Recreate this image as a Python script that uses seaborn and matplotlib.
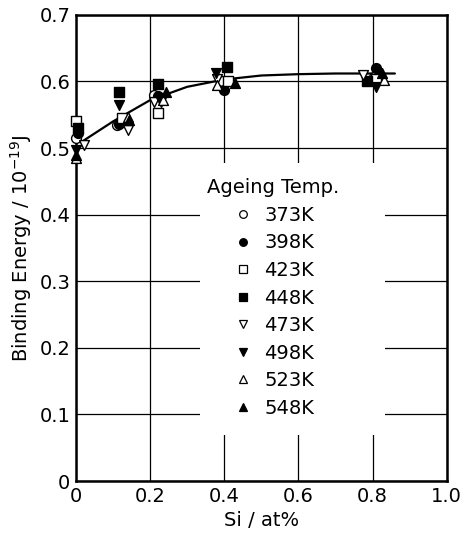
import numpy as np
import pandas as pd
import matplotlib
matplotlib.use("Agg")
import matplotlib.pyplot as plt
import seaborn as sns
from matplotlib.lines import Line2D
from matplotlib.patches import Rectangle

temps = ["373K", "398K", "423K", "448K", "473K", "498K", "523K", "548K"]
markers = ["o", "o", "s", "s", "v", "v", "^", "^"]
filled = [False, True, False, True, False, True, False, True]

# Si content (at%) and binding energy (1e-19 J) per ageing temperature
si_373 = [0.000, 0.110, 0.210, 0.395, 0.805]
be_373 = [0.515, 0.535, 0.580, 0.600, 0.607]
si_398 = [0.005, 0.115, 0.220, 0.400, 0.810]
be_398 = [0.522, 0.536, 0.578, 0.587, 0.620]
si_423 = [0.000, 0.124, 0.220, 0.410, 0.810]
be_423 = [0.541, 0.545, 0.553, 0.600, 0.604]
si_448 = [0.005, 0.116, 0.222, 0.407, 0.785]
be_448 = [0.530, 0.584, 0.596, 0.622, 0.600]
si_473 = [0.022, 0.140, 0.210, 0.380, 0.775]
be_473 = [0.505, 0.527, 0.569, 0.603, 0.610]
si_498 = [0.000, 0.116, 0.230, 0.378, 0.810]
be_498 = [0.497, 0.565, 0.569, 0.613, 0.592]
si_523 = [0.000, 0.140, 0.235, 0.380, 0.830]
be_523 = [0.485, 0.547, 0.572, 0.595, 0.602]
si_548 = [0.000, 0.143, 0.243, 0.430, 0.825]
be_548 = [0.490, 0.542, 0.584, 0.598, 0.613]

curve_x = [0.02, 0.10, 0.20, 0.30, 0.40, 0.50, 0.60, 0.70, 0.80, 0.86]
curve_y = [0.511, 0.540, 0.572, 0.592, 0.603, 0.609, 0.611, 0.612, 0.612, 0.612]

xticks = [0, 0.2, 0.4, 0.6, 0.8, 1.0]
xticklabels = ["0", "0.2", "0.4", "0.6", "0.8", "1.0"]
yticks = [0, 0.1, 0.2, 0.3, 0.4, 0.5, 0.6, 0.7]
yticklabels = ["0", "0.1", "0.2", "0.3", "0.4", "0.5", "0.6", "0.7"]

si_all = [si_373, si_398, si_423, si_448, si_473, si_498, si_523, si_548]
be_all = [be_373, be_398, be_423, be_448, be_473, be_498, be_523, be_548]

rows = []
for t, xs, ys in zip(temps, si_all, be_all):
    for x, y in zip(xs, ys):
        rows.append({"Temp": t, "Si": x, "BE": y})
df = pd.DataFrame(rows)

sns.set_theme(style="white")
plt.rcParams["font.family"] = ["DejaVu Sans"]

fig = plt.figure(figsize=(4.63, 5.42), dpi=100)
ax = fig.add_axes([0.164, 0.1125, 0.801, 0.86])

sns.lineplot(x=curve_x, y=curve_y, ax=ax, color="black", lw=1.6, zorder=2)

handles = []
for t, m, f in zip(temps, markers, filled):
    sub = df[df["Temp"] == t]
    sns.scatterplot(data=sub, x="Si", y="BE", ax=ax, marker=m, s=50,
                    facecolor="black" if f else "white", edgecolor="black",
                    linewidth=1.0, zorder=4, clip_on=False)
    handles.append(Line2D([], [], ls="none", marker=m, markersize=5.5,
                          markerfacecolor="black" if f else "white",
                          markeredgecolor="black", markeredgewidth=0.9))

ax.set_xlim(0, 1.0)
ax.set_ylim(0, 0.7)
ax.set_xticks(xticks)
ax.set_xticklabels(xticklabels)
ax.set_yticks(yticks)
ax.set_yticklabels(yticklabels)
ax.tick_params(axis="both", length=0, labelsize=14, pad=4, colors="black")
ax.grid(True, color="black", lw=0.9)
ax.set_axisbelow(True)
for sp in ax.spines.values():
    sp.set_visible(True)
    sp.set_color("black")
    sp.set_linewidth(1.8)
    sp.set_zorder(1)

# white area behind the legend that interrupts the grid
ax.add_patch(Rectangle((0.334, 0.098), 0.50, 0.585, transform=ax.transAxes,
                       facecolor="white", edgecolor="none", zorder=1.5))

ax.set_xlabel("Si / at%", fontsize=14, color="black", labelpad=4)
ax.set_ylabel("Binding Energy / 10$^{-19}$J", fontsize=14, color="black", labelpad=4)

leg = ax.legend(handles, temps, title="Ageing Temp.", loc="upper left",
                bbox_to_anchor=(186 / 463, 1 - 157 / 542), bbox_transform=fig.transFigure,
                fontsize=14, title_fontsize=14, frameon=False,
                labelspacing=0.44, handletextpad=0.6, handlelength=1.0, borderpad=0.6)
leg.get_title().set_color("black")
for txt in leg.get_texts():
    txt.set_color("black")
leg.set_zorder(5)

fig.savefig("out.png", dpi=100)
